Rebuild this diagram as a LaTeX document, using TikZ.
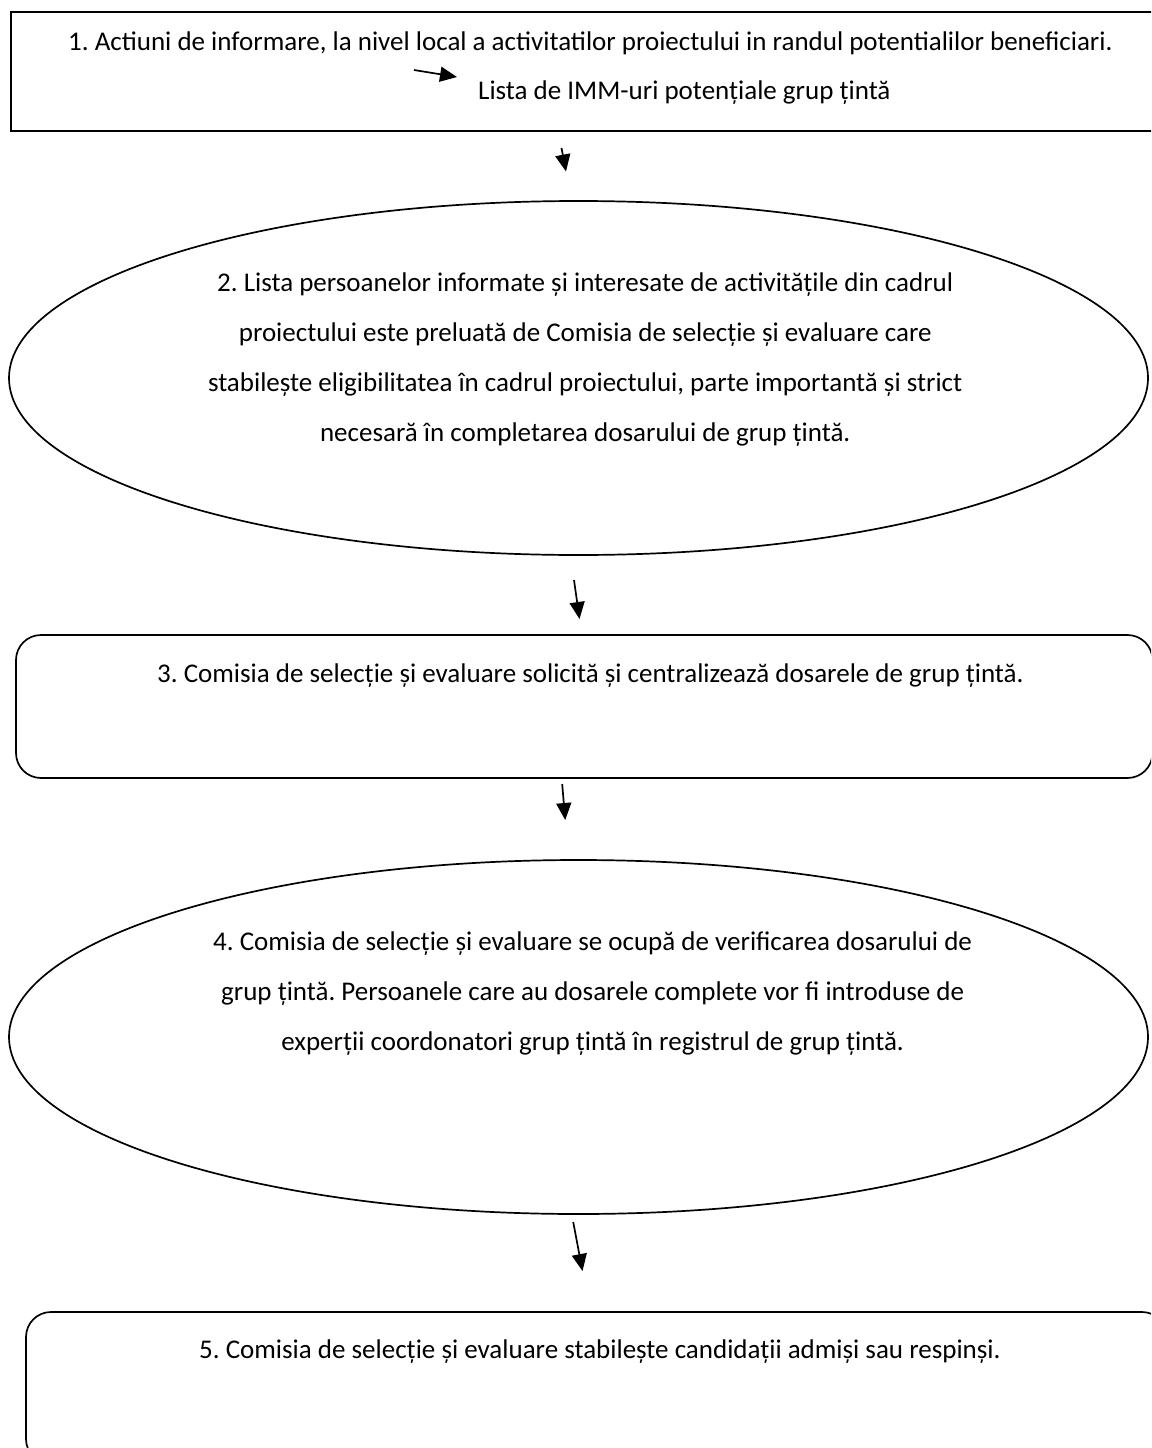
\documentclass[tikz,border=0pt]{standalone}
\usepackage{fontspec}
\setmainfont{Carlito}
\frenchspacing
\usetikzlibrary{arrows.meta,shapes.geometric}
\begin{document}
\begin{tikzpicture}[x=1pt,y=-1pt,
  shapeline/.style={draw=black,line width=1.7pt,inner sep=0pt},
  txt/.style={font=\fontsize{27}{33}\selectfont,inner sep=0pt},
  flowarrow/.style={draw=black,line width=1.7pt,-{Triangle[length=17pt,width=15pt]}}]
\clip (0,0) rectangle (1151,1448);
\useasboundingbox (0,0) rectangle (1151,1448);
% box 1
\node[shapeline,rectangle,minimum width=1170pt,minimum height=119pt] (b1) at (596,71.5) {};
\node[txt,anchor=base west] (t1) at (68,50) {1. Actiuni de informare, la nivel local a activitatilor proiectului in randul potentialilor beneficiari.};
\node[txt,anchor=base west] (t1b) at (478,99) {Lista de IMM-uri potențiale grup țintă};
\coordinate (r1s) at (414,70);
\coordinate (r1e) at (457,77);
\draw[flowarrow] (r1s) -- (r1e);
% arrow 1->2
\coordinate (a1s) at (561.5,148);
\coordinate (a1e) at (566,171.5);
\draw[flowarrow] (a1s) -- (a1e);
% ellipse 2
\node[shapeline,ellipse,minimum width=1139pt,minimum height=354pt] (e2) at (578.5,378) {};
\node[txt,anchor=base west] (t2a) at (217,291) {2. Lista persoanelor informate și interesate de activitățile din cadrul};
\node[txt,anchor=base] (t2b) at ([yshift=-50pt]t2a.base) {proiectului este preluată de Comisia de selecție și evaluare care};
\node[txt,anchor=base] (t2c) at ([yshift=-50pt]t2b.base) {stabilește eligibilitatea în cadrul proiectului, parte importantă și strict};
\node[txt,anchor=base] (t2d) at ([yshift=-50pt]t2c.base) {necesară în completarea dosarului de grup țintă.};
% arrow 2->3
\coordinate (a2s) at (574,580);
\coordinate (a2e) at (579.5,619);
\draw[flowarrow] (a2s) -- (a2e);
% box 3
\node[shapeline,rectangle,rounded corners=25pt,minimum width=1136.5pt,minimum height=143pt] (b3) at (584.25,706.5) {};
\node[txt,anchor=base west] (t3) at (157,682) {3. Comisia de selecție și evaluare solicită și centralizează dosarele de grup țintă.};
% arrow 3->4
\coordinate (a3s) at (562.2,784);
\coordinate (a3e) at (565.2,820);
\draw[flowarrow] (a3s) -- (a3e);
% ellipse 4
\node[shapeline,ellipse,minimum width=1139pt,minimum height=354pt] (e4) at (578.5,1037) {};
\node[txt,anchor=base west] (t4a) at (213,950) {4. Comisia de selecție și evaluare se ocupă de verificarea dosarului de};
\node[txt,anchor=base] (t4b) at ([yshift=-50pt]t4a.base) {grup țintă. Persoanele care au dosarele complete vor fi introduse de};
\node[txt,anchor=base] (t4c) at ([yshift=-50pt]t4b.base) {experții coordonatori grup țintă în registrul de grup țintă.};
% arrow 4->5
\coordinate (a4s) at (573.2,1222);
\coordinate (a4e) at (582.5,1271);
\draw[flowarrow] (a4s) -- (a4e);
% box 5
\node[shapeline,rectangle,rounded corners=25pt,minimum width=1141pt,minimum height=152pt] (b5) at (596.5,1388) {};
\node[txt,anchor=base west] (t5) at (199,1358) {5. Comisia de selecție și evaluare stabilește candidații admiși sau respinși.};
\end{tikzpicture}
\end{document}
